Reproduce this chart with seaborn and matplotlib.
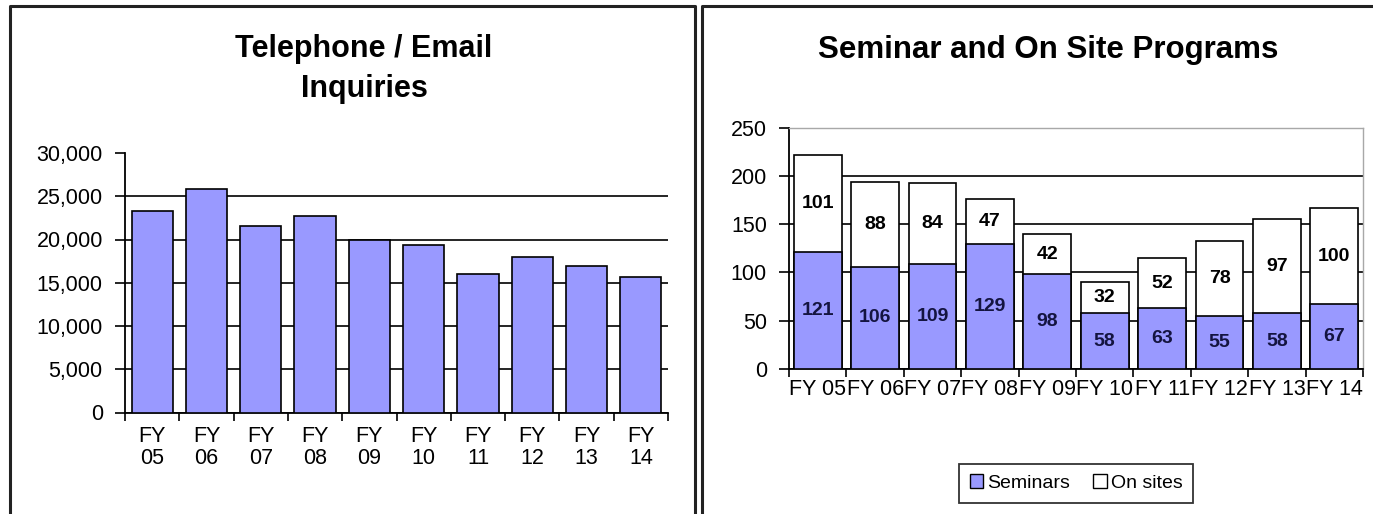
import matplotlib
matplotlib.use("Agg")
import matplotlib.pyplot as plt
from matplotlib.patches import Patch
from matplotlib.lines import Line2D
import numpy as np
import pandas as pd
import seaborn as sns

# ---- data ----
fiscal_years = ["05", "06", "07", "08", "09", "10", "11", "12", "13", "14"]
inquiries = [23300, 25800, 21600, 22700, 20000, 19400, 16000, 18000, 16950, 15700]
seminars = [121, 106, 109, 129, 98, 58, 63, 55, 58, 67]
on_sites = [101, 88, 84, 47, 42, 32, 52, 78, 97, 100]

inquiry_ticks = [0, 5000, 10000, 15000, 20000, 25000, 30000]
program_ticks = [0, 50, 100, 150, 200, 250]

BAR_BLUE = "#9999FF"
W, H = 1373, 514

sns.set_theme(style="white")
plt.rcParams["font.family"] = ["Liberation Sans", "DejaVu Sans"]
plt.rcParams["text.color"] = "black"

fig = plt.figure(figsize=(W / 100, H / 100), dpi=100)
fig.patch.set_facecolor("white")


def fx(px):
    return px / W


def fy(py):
    return 1 - py / H


ax1 = fig.add_axes([fx(125), fy(412.5), fx(668) - fx(125), fy(153) - fy(412.5)])
ax2 = fig.add_axes([fx(789), fy(369), fx(1363) - fx(789), fy(127.7) - fy(369)])

# ---- left: telephone / email inquiries ----
df1 = pd.DataFrame({"year": ["FY\n" + y for y in fiscal_years], "inquiries": inquiries})
sns.barplot(data=df1, x="year", y="inquiries", color=BAR_BLUE, saturation=1,
            edgecolor="black", linewidth=1.2, width=0.76, ax=ax1, zorder=3)

# ---- right: seminars stacked under on-site programs ----
totals = [s + o for s, o in zip(seminars, on_sites)]
df2 = pd.DataFrame({"year": ["FY " + y for y in fiscal_years],
                    "total": totals, "seminars": seminars, "on_sites": on_sites})
sns.barplot(data=df2, x="year", y="total", color="white", saturation=1,
            edgecolor="black", linewidth=1.2, width=0.83, ax=ax2, zorder=3)
sns.barplot(data=df2, x="year", y="seminars", color=BAR_BLUE, saturation=1,
            edgecolor="black", linewidth=1.2, width=0.83, ax=ax2, zorder=4)

for i, (s, o) in enumerate(zip(seminars, on_sites)):
    ax2.text(i, s / 2, str(s), ha="center", va="center", fontsize=14,
             fontweight="bold", color="#141440", zorder=6)
    ax2.text(i, s + o / 2, str(o), ha="center", va="center", fontsize=14,
             fontweight="bold", color="black", zorder=6)

# ---- axes styling ----
for ax, ticks in ((ax1, inquiry_ticks), (ax2, program_ticks)):
    ax.set_xlabel("")
    ax.set_ylabel("")
    ax.set_xlim(-0.5, len(fiscal_years) - 0.5)
    ax.set_ylim(ticks[0], ticks[-1])
    ax.set_yticks(ticks)
    ax.set_axisbelow(True)
    ax.yaxis.grid(True, color="black", linewidth=1.2)
    ax.xaxis.grid(False)
    ax.set_xticks(np.arange(-0.5, len(fiscal_years), 1), minor=True)
    ax.tick_params(axis="x", which="major", length=0, labelsize=15.5, colors="black")
    ax.tick_params(axis="x", which="minor", bottom=True, length=6, width=1.2,
                   color="black", direction="out")
    ax.tick_params(axis="y", which="major", left=True, length=7, width=1.2,
                   color="black", direction="out", labelsize=15.5, pad=9,
                   labelcolor="black")
    for side in ("left", "bottom"):
        ax.spines[side].set_color("black")
        ax.spines[side].set_linewidth(1.3)
    ax.set_facecolor("white")

ax1.set_yticklabels([f"{v:,}" for v in inquiry_ticks])
ax1.tick_params(axis="x", which="major", pad=10)
for lbl in ax1.get_xticklabels():
    lbl.set_linespacing(1.05)
ax1.spines["top"].set_visible(False)
ax1.spines["right"].set_visible(False)
ax1.get_ygridlines()[-1].set_visible(False)

ax2.tick_params(axis="x", which="major", pad=7)
for side in ("top", "right"):
    ax2.spines[side].set_visible(True)
    ax2.spines[side].set_color("#a8a8a8")
    ax2.spines[side].set_linewidth(1.0)
ax2.get_ygridlines()[-1].set_visible(False)

# ---- titles ----
fig.text(fx(364), fy(34), "Telephone / Email\nInquiries", ha="center", va="top",
         fontsize=22, fontweight="bold", linespacing=1.45, color="black")
fig.text(fx(1048), fy(35), "Seminar and On Site Programs", ha="center", va="top",
         fontsize=22.5, fontweight="bold", color="black")

# ---- legend ----
handles = [Patch(facecolor=BAR_BLUE, edgecolor="black", label="Seminars"),
           Patch(facecolor="white", edgecolor="black", label="On sites")]
leg = fig.legend(handles=handles, loc="center", bbox_to_anchor=(fx(1076), fy(483)),
                 ncol=2, frameon=True, fancybox=False, edgecolor="black",
                 fontsize=14, handlelength=0.7, handleheight=0.7,
                 handletextpad=0.2, columnspacing=1.2, borderpad=0.55)
leg.get_frame().set_linewidth(1.3)
for t in leg.get_texts():
    t.set_color("black")

# ---- panel frames ----
fig.add_artist(Line2D([fx(10), fx(10), fx(695), fx(695)], [0, fy(6), fy(6), 0],
                      transform=fig.transFigure, color="#222222", linewidth=2.2))
fig.add_artist(Line2D([fx(702), fx(702), 1.0], [0, fy(6), fy(6)],
                      transform=fig.transFigure, color="#222222", linewidth=2.2))

fig.savefig("out.png", dpi=100, facecolor="white")
